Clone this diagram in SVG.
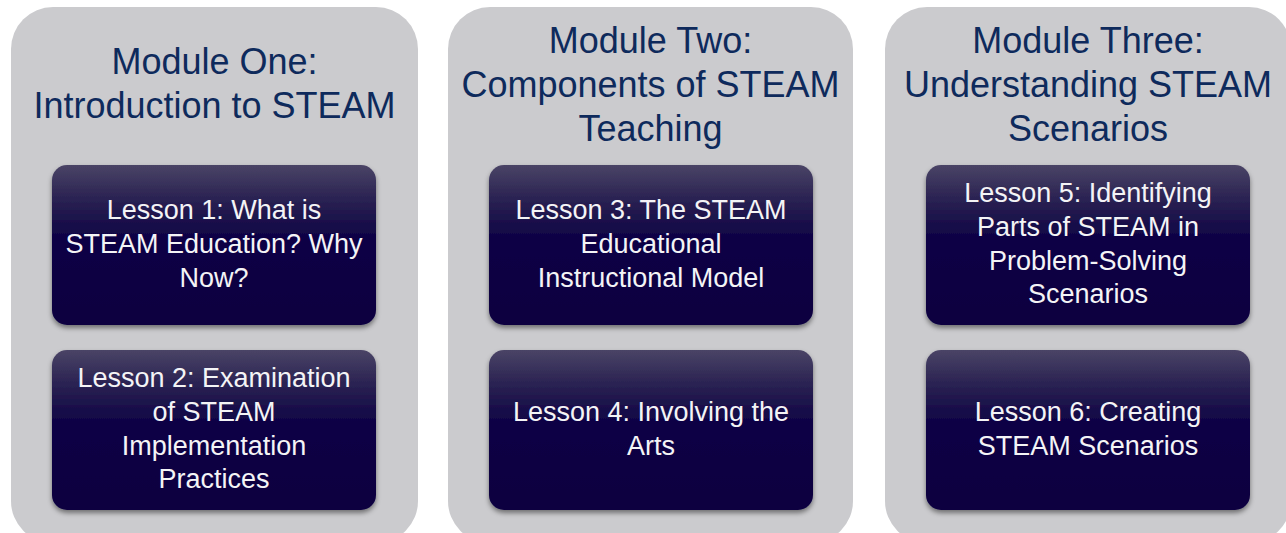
<svg xmlns="http://www.w3.org/2000/svg" width="1286" height="533" viewBox="0 0 1286 533">
  <style>
    .panel { fill: #cbcbce; }
    .title { font-family: "Liberation Sans", Arial, sans-serif; font-size: 36px; fill: #0e2a5c; text-anchor: middle; }
    .lesson { fill: url(#lessonGrad); filter: url(#shadow); }
    .ltext { font-family: "Liberation Sans", Arial, sans-serif; font-size: 27px; fill: #f4f4f6; text-anchor: middle; }
  </style>
  <defs>
    <linearGradient id="lessonGrad" x1="0" y1="0" x2="0" y2="1">
      <stop offset="0" stop-color="#4a4466"/>
      <stop offset="0.2" stop-color="#2c2453"/>
      <stop offset="0.45" stop-color="#0f0445"/>
      <stop offset="1" stop-color="#0b0040"/>
    </linearGradient>
    <filter id="shadow" x="-10%" y="-10%" width="120%" height="130%">
      <feDropShadow dx="0" dy="3" stdDeviation="2.5" flood-color="#000000" flood-opacity="0.45"/>
    </filter>
  </defs>
  <rect width="1286" height="533" fill="#ffffff"/>

  <g id="module-one">
    <rect class="panel" x="11" y="7" width="407" height="536" rx="42"/>
    <text class="title" x="214.5" y="74">Module One:</text>
    <text class="title" x="214.5" y="118">Introduction to STEAM</text>
  </g>
  <g id="module-two">
    <rect class="panel" x="448" y="7" width="405" height="536" rx="42"/>
    <text class="title" x="650.5" y="53">Module Two:</text>
    <text class="title" x="650.5" y="97">Components of STEAM</text>
    <text class="title" x="650.5" y="141">Teaching</text>
  </g>
  <g id="module-three">
    <rect class="panel" x="885" y="7" width="406" height="536" rx="42"/>
    <text class="title" x="1088" y="53">Module Three:</text>
    <text class="title" x="1088" y="97">Understanding STEAM</text>
    <text class="title" x="1088" y="141">Scenarios</text>
  </g>

  <g id="lesson-1">
    <rect class="lesson" x="52" y="165" width="324" height="160" rx="15"/>
    <text class="ltext" x="214" y="219">Lesson 1: What is</text>
    <text class="ltext" x="214" y="253">STEAM Education? Why</text>
    <text class="ltext" x="214" y="287">Now?</text>
  </g>
  <g id="lesson-2">
    <rect class="lesson" x="52" y="350" width="324" height="160" rx="15"/>
    <text class="ltext" x="214" y="387">Lesson 2: Examination</text>
    <text class="ltext" x="214" y="421">of STEAM</text>
    <text class="ltext" x="214" y="455">Implementation</text>
    <text class="ltext" x="214" y="488">Practices</text>
  </g>
  <g id="lesson-3">
    <rect class="lesson" x="489" y="165" width="324" height="160" rx="15"/>
    <text class="ltext" x="651" y="219">Lesson 3: The STEAM</text>
    <text class="ltext" x="651" y="253">Educational</text>
    <text class="ltext" x="651" y="287">Instructional Model</text>
  </g>
  <g id="lesson-4">
    <rect class="lesson" x="489" y="350" width="324" height="160" rx="15"/>
    <text class="ltext" x="651" y="421">Lesson 4: Involving the</text>
    <text class="ltext" x="651" y="455">Arts</text>
  </g>
  <g id="lesson-5">
    <rect class="lesson" x="926" y="165" width="324" height="160" rx="15"/>
    <text class="ltext" x="1088" y="202">Lesson 5: Identifying</text>
    <text class="ltext" x="1088" y="236">Parts of STEAM in</text>
    <text class="ltext" x="1088" y="270">Problem-Solving</text>
    <text class="ltext" x="1088" y="303">Scenarios</text>
  </g>
  <g id="lesson-6">
    <rect class="lesson" x="926" y="350" width="324" height="160" rx="15"/>
    <text class="ltext" x="1088" y="421">Lesson 6: Creating</text>
    <text class="ltext" x="1088" y="455">STEAM Scenarios</text>
  </g>

  <g id="connectors"></g>
</svg>
